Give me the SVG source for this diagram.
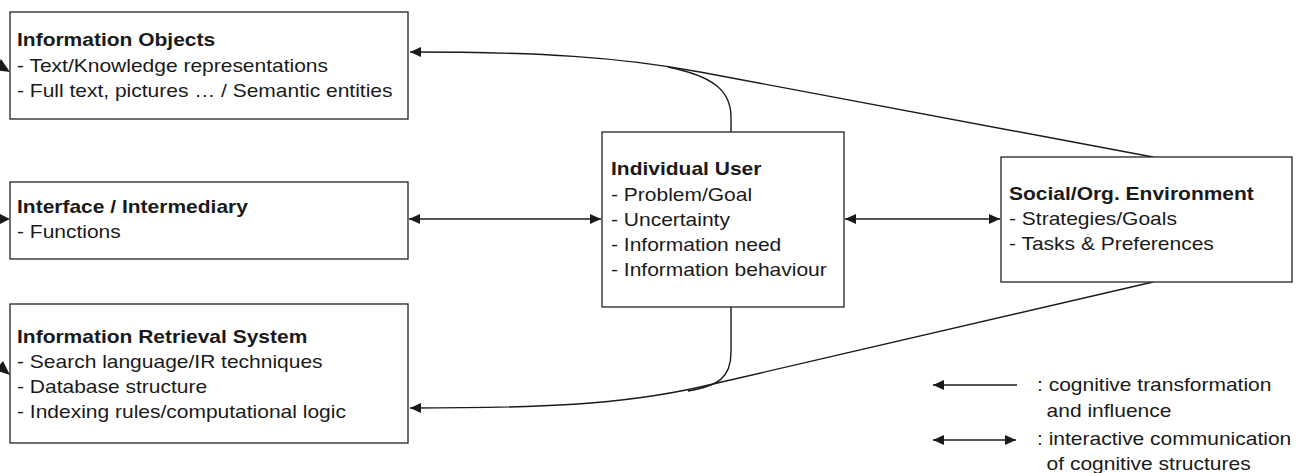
<svg xmlns="http://www.w3.org/2000/svg" width="1301" height="473" viewBox="0 0 1301 473">
<style>
.box{fill:#fff;stroke:#222;stroke-width:1.3}
.ln{fill:none;stroke:#1a1a1a;stroke-width:1.4}
.hd{fill:#1a1a1a}
text{font-family:"Liberation Sans",Arial,Helvetica,sans-serif;font-size:17.5px;fill:#1a1a1a}
.b{font-weight:bold}
</style>
<defs>
<marker id="ah" markerUnits="userSpaceOnUse" markerWidth="12" markerHeight="10" refX="11" refY="5" orient="auto-start-reverse">
<path d="M0,0 L11,5 L0,10 z" fill="#1a1a1a"/>
</marker>
</defs>
<rect width="1301" height="473" fill="#fff"/>
<g id="connectors">
<path class="ln" d="M1153,157 L700,72 C620,57 540,52 410,52" marker-end="url(#ah)"/>
<path class="ln" d="M731,132 L731,117 C731,90 712,76 668,67"/>
<path class="ln" d="M1153,282 L700,387 C620,405 540,408 410,408" marker-end="url(#ah)"/>
<path class="ln" d="M731,307 L731,352 C731,378 718,386 688,391"/>
<path class="ln" d="M409,219 L601,219" marker-start="url(#ah)" marker-end="url(#ah)"/>
<path class="ln" d="M845,219 L1000,219" marker-start="url(#ah)" marker-end="url(#ah)"/>
<path class="hd" d="M10,72 L1,59 L-5,70 z"/>
<path class="hd" d="M10,219 L-2,213 L-2,225 z"/>
<path class="hd" d="M10,375 L3,361 L-5,370 z"/>
</g>
<g id="info-objects">
<rect class="box" x="10" y="12" width="398" height="107"/>
<text transform="translate(17,0) scale(1.2,1)"><tspan class="b" x="0" y="46">Information Objects</tspan><tspan x="0" y="72">- Text/Knowledge representations</tspan><tspan x="0" y="97">- Full text, pictures … / Semantic entities</tspan></text>
</g>
<g id="interface">
<rect class="box" x="10" y="182" width="398" height="77"/>
<text transform="translate(17,0) scale(1.2,1)"><tspan class="b" x="0" y="213">Interface / Intermediary</tspan><tspan x="0" y="238">- Functions</tspan></text>
</g>
<g id="ir-system">
<rect class="box" x="10" y="304" width="398" height="139"/>
<text transform="translate(17,0) scale(1.2,1)"><tspan class="b" x="0" y="343">Information Retrieval System</tspan><tspan x="0" y="368">- Search language/IR techniques</tspan><tspan x="0" y="393">- Database structure</tspan><tspan x="0" y="418">- Indexing rules/computational logic</tspan></text>
</g>
<g id="user">
<rect class="box" x="602" y="132" width="242" height="175"/>
<text transform="translate(611,0) scale(1.2,1)"><tspan class="b" x="0" y="175">Individual User</tspan><tspan x="0" y="201">- Problem/Goal</tspan><tspan x="0" y="226">- Uncertainty</tspan><tspan x="0" y="251">- Information need</tspan><tspan x="0" y="276">- Information behaviour</tspan></text>
</g>
<g id="social">
<rect class="box" x="1001" y="157" width="291" height="125"/>
<text transform="translate(1009,0) scale(1.2,1)"><tspan class="b" x="0" y="200">Social/Org. Environment</tspan><tspan x="0" y="225">- Strategies/Goals</tspan><tspan x="0" y="250">- Tasks &amp; Preferences</tspan></text>
</g>
<g id="legend">
<path class="ln" d="M1017,385 L933,385" marker-end="url(#ah)"/>
<path class="ln" d="M933,440 L1016,440" marker-start="url(#ah)" marker-end="url(#ah)"/>
<text transform="translate(1037,0) scale(1.2,1)"><tspan x="0" y="391">: cognitive transformation</tspan><tspan x="8" y="417">and influence</tspan><tspan x="0" y="445">: interactive communication</tspan><tspan x="8" y="470">of cognitive structures</tspan></text>
</g>
</svg>
